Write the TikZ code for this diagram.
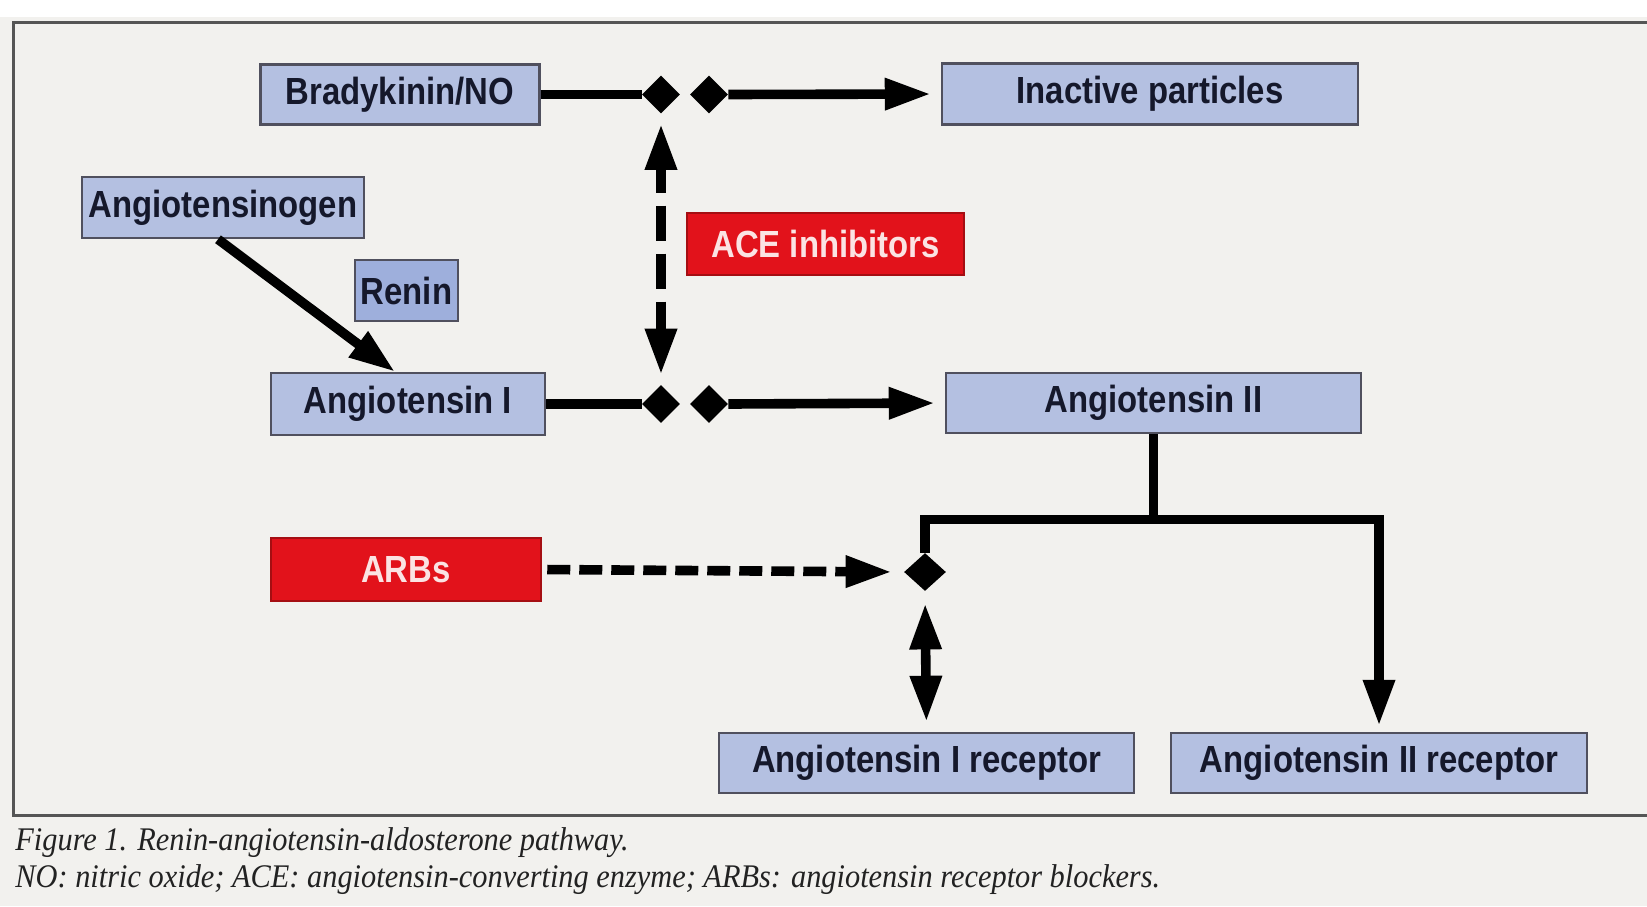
\documentclass[tikz,border=0pt]{standalone}
\usepackage{fontspec}
\usetikzlibrary{arrows.meta,shapes.geometric}
\newfontfamily\boxfont{Liberation Sans}[FakeStretch=0.87]
\newfontfamily\capfont{Liberation Serif}[FakeStretch=0.92]
\definecolor{bg}{HTML}{F2F1EE}
\definecolor{boxblue}{HTML}{B4C0E1}
\definecolor{reninblue}{HTML}{9EAFDC}
\definecolor{boxedge}{HTML}{50505E}
\definecolor{navy}{HTML}{15182B}
\definecolor{drugred}{HTML}{E2121B}
\definecolor{drugedge}{HTML}{A50E12}
\definecolor{drugtext}{HTML}{FBE3E3}
\definecolor{framecol}{HTML}{555555}
\definecolor{captext}{HTML}{222222}
\tikzset{
  BigTri/.tip={Triangle[length=23pt,width=15pt]},
  box/.style={draw=boxedge, line width=1.25pt, fill=boxblue, text=navy, inner sep=0pt,
    font=\boxfont\bfseries\fontsize{18.9pt}{22pt}\selectfont},
  drug/.style={box, fill=drugred, draw=drugedge, text=drugtext},
  junction/.style={shape=diamond, fill=black, draw=none, inner sep=0pt,
    minimum width=19pt, minimum height=19pt},
  conn/.style={line width=4.8pt, draw=black, line join=miter},
  dashv/.style={conn, dash pattern=on 17.5pt off 6.5pt, dash phase=5pt},
  dashh/.style={conn, dash pattern=on 11.5pt off 4.5pt},
  captxt/.style={anchor=base west, inner sep=0pt, text=captext,
    font=\capfont\itshape\fontsize{16.5pt}{18pt}\selectfont}
}
\begin{document}
\begin{tikzpicture}[x=0.5pt,y=-0.5pt]
\useasboundingbox (0,0) rectangle (1647,906);
\fill[bg] (0,0) rectangle (1647,906);
\fill[white] (0,0) rectangle (1647,17);
\draw[framecol, line width=1.5pt] (1647,22) -- (13.5,22) -- (13.5,815) -- (1647,815);

% boxes
\node[box, minimum width=139.5pt, minimum height=30pt] (brady) at (400,94.5) {Bradykinin/NO};
\node[box, minimum width=208pt, minimum height=30.5pt] (inact) at (1150,94) {Inactive particles};
\node[box, minimum width=141pt, minimum height=30.5pt] (angen) at (223,207.5) {Angiotensinogen};
\node[box, fill=reninblue, minimum width=51.5pt, minimum height=30.5pt] (renin) at (406.5,290.5) {Renin};
\node[drug, minimum width=138.5pt, minimum height=31pt] (ace) at (825.5,244) {ACE inhibitors};
\node[box, minimum width=137pt, minimum height=31pt] (angI) at (408,404) {Angiotensin I};
\node[box, minimum width=207.5pt, minimum height=30pt] (angII) at (1153.5,403) {Angiotensin II};
\node[drug, minimum width=135pt, minimum height=31.5pt] (arbs) at (406,569.5) {ARBs};
\node[box, minimum width=207.5pt, minimum height=30pt] (recI) at (926.5,763) {Angiotensin I receptor};
\node[box, minimum width=208pt, minimum height=30pt] (recII) at (1379,763) {Angiotensin II receptor};

% junction diamonds
\node[junction] (d1) at (661,94.5) {};
\node[junction] (d2) at (709,94.5) {};
\node[junction] (d3) at (661,404) {};
\node[junction] (d4) at (709,404) {};
\node[junction, minimum width=21pt, minimum height=19pt] (d5) at (925,572) {};

% connectors
\draw[conn] (brady.east) -- (d1.west);
\draw[conn, -{BigTri}, shorten >=5pt] (d2.east) -- (inact.west);
\draw[conn] (angI.east) -- (d3.west);
\draw[conn, -{BigTri}, shorten >=5pt] (d4.east) -- (angII.west);
\draw[dashv, {BigTri}-{BigTri}, shorten <=5pt, shorten >=5pt] (d1.south) -- (d3.north);
\draw[conn, -{BigTri}] ([xshift=-2.5pt]angen.south) -- ([xshift=-6.5pt]angI.north);
\coordinate (jl) at (925,519.5);
\draw[conn] (angII.south) -- (angII.south |- jl);
\draw[conn, -{BigTri}, shorten >=3pt] (d5.north) |- (recII.north |- jl) -- (recII.north);
\draw[dashh, -{BigTri}, shorten <=2.5pt, shorten >=6pt] (arbs.east) -- (d5.west);
\draw[conn, {BigTri}-{BigTri}, shorten <=6pt, shorten >=5pt] (d5.south) -- (recI.north);

% caption
\node[captxt] (cap1) at (15,850) {Figure 1. Renin-angiotensin-aldosterone pathway.};
\node[captxt] (cap2) at (15,887) {NO: nitric oxide; ACE: angiotensin-converting enzyme; ARBs: angiotensin receptor blockers.};
\end{tikzpicture}
\end{document}
